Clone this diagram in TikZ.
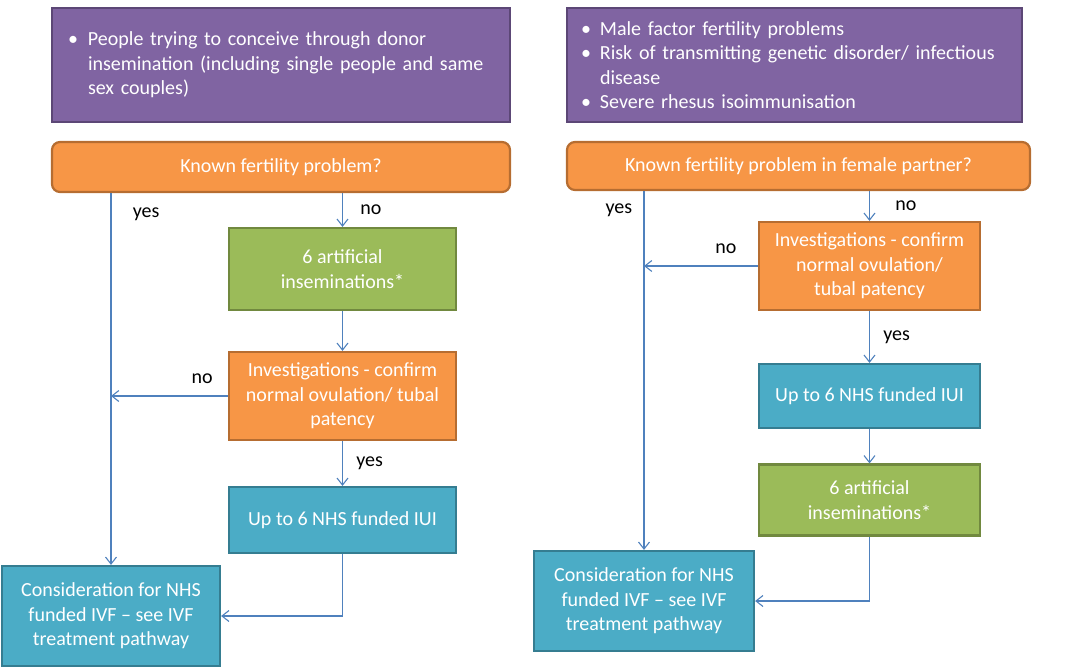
\documentclass[tikz,border=0pt]{standalone}
\usepackage{fontspec}
\setmainfont{Carlito}
\usetikzlibrary{arrows.meta}

\definecolor{boxpurple}{HTML}{8064A2}
\definecolor{boxpurpleline}{HTML}{5C4776}
\definecolor{boxorange}{HTML}{F79646}
\definecolor{boxorangeline}{HTML}{B66D31}
\definecolor{boxgreen}{HTML}{9BBB59}
\definecolor{boxgreenline}{HTML}{71893F}
\definecolor{boxblue}{HTML}{4BACC6}
\definecolor{boxblueline}{HTML}{357D91}
\definecolor{linkblue}{HTML}{4F81BD}

% bullet line with hanging indent (break lines with \newline)
\newcommand{\bitem}[2]{\hangindent=#1\hangafter=1\noindent\makebox[#1][l]{\hspace{2pt}\textbullet}#2\par}

\begin{document}
\begin{tikzpicture}[
    x=1pt, y=-1pt,
    box/.style={
        draw,
        line width=2.2pt,
        align=center,
        text=white,
        inner sep=0pt,
        font=\fontsize{20}{24.5}\selectfont
    },
    purplebox/.style={box, fill=boxpurple, draw=boxpurpleline, align=left},
    questionbox/.style={box, fill=boxorange, draw=boxorangeline, rounded corners=8pt},
    orangebox/.style={box, fill=boxorange, draw=boxorangeline},
    greenbox/.style={box, fill=boxgreen, draw=boxgreenline},
    bluebox/.style={box, fill=boxblue, draw=boxblueline},
    arrow/.style={-{Straight Barb[length=7pt,width=11pt]}, draw=linkblue, line width=1.1pt},
    lbl/.style={font=\fontsize{20}{24.5}\selectfont, text=black}
]
\useasboundingbox (0,0) rectangle (1070,668);

% left pathway
\node[purplebox, text width=430pt, inner xsep=14pt, minimum height=114pt] (who1) at (281,65)
    {\bitem{22pt}{People trying to conceive through donor\newline insemination (including single people and same\newline sex couples)}};
\node[questionbox, minimum width=458pt, minimum height=50pt] (known1) at (281,167) {Known fertility problem?};
\node[greenbox, minimum width=227pt, minimum height=82pt] (green1) at (342.5,269) {6 artificial\\inseminations*};
\node[orangebox, minimum width=227pt, minimum height=88pt] (inv1) at (342.5,396) {Investigations - confirm\\normal ovulation/ tubal\\patency};
\node[bluebox, minimum width=227pt, minimum height=66pt] (iui1) at (342.5,520) {Up to 6 NHS funded IUI};
\node[bluebox, minimum width=218pt, minimum height=100pt] (cons1) at (111,616) {Consideration for NHS\\funded IVF – see IVF\\treatment pathway};

% right pathway
\node[purplebox, text width=431pt, inner xsep=12pt, minimum height=114pt] (who2) at (794.5,65)
    {\bitem{21pt}{Male factor fertility problems}
     \bitem{21pt}{Risk of transmitting genetic disorder/ infectious\newline disease}
     \bitem{21pt}{Severe rhesus isoimmunisation}};
\node[questionbox, minimum width=463pt, minimum height=48pt] (known2) at (798.5,166) {Known fertility problem in female partner?};
\node[orangebox, minimum width=221pt, minimum height=88pt] (inv2) at (869.5,266) {Investigations - confirm\\normal ovulation/\\tubal patency};
\node[bluebox, minimum width=221pt, minimum height=64pt] (iui2) at (869.5,396) {Up to 6 NHS funded IUI};
\node[greenbox, minimum width=221pt, minimum height=71pt] (green2) at (869.5,500) {6 artificial\\inseminations*};
\node[bluebox, minimum width=220pt, minimum height=100pt] (cons2) at (644,601) {Consideration for NHS\\funded IVF – see IVF\\treatment pathway};

\coordinate (join1) at (cons1.north |- inv1.west);
\coordinate (join2) at (cons2.north |- inv2.west);

\draw[arrow] (known1.south -| green1.north) -- node[lbl, right=14pt] {no} (green1.north);
\draw[arrow] (known1.south -| cons1.north) -- node[lbl, pos=0.056, right=18pt] {yes} (cons1.north);
\draw[arrow] (green1) -- (inv1);
\draw[arrow] (inv1.west) -- node[lbl, pos=0.22, above=8pt] {no} (join1);
\draw[arrow] (inv1) -- node[lbl, right=10pt] {yes} (iui1);
\draw[arrow] (iui1.south) |- (cons1.east);

\draw[arrow] (known2.south -| inv2.north) -- node[lbl, right=22pt] {no} (inv2.north);
\draw[arrow] (known2.south -| cons2.north) -- node[lbl, pos=0.053, left=8pt] {yes} (cons2.north);
\draw[arrow] (inv2.west) -- node[lbl, pos=0.28, above=8pt] {no} (join2);
\draw[arrow] (inv2) -- node[lbl, right=10pt] {yes} (iui2);
\draw[arrow] (iui2) -- (green2);
\draw[arrow] (green2.south) |- (cons2.east);

\end{tikzpicture}
\end{document}
